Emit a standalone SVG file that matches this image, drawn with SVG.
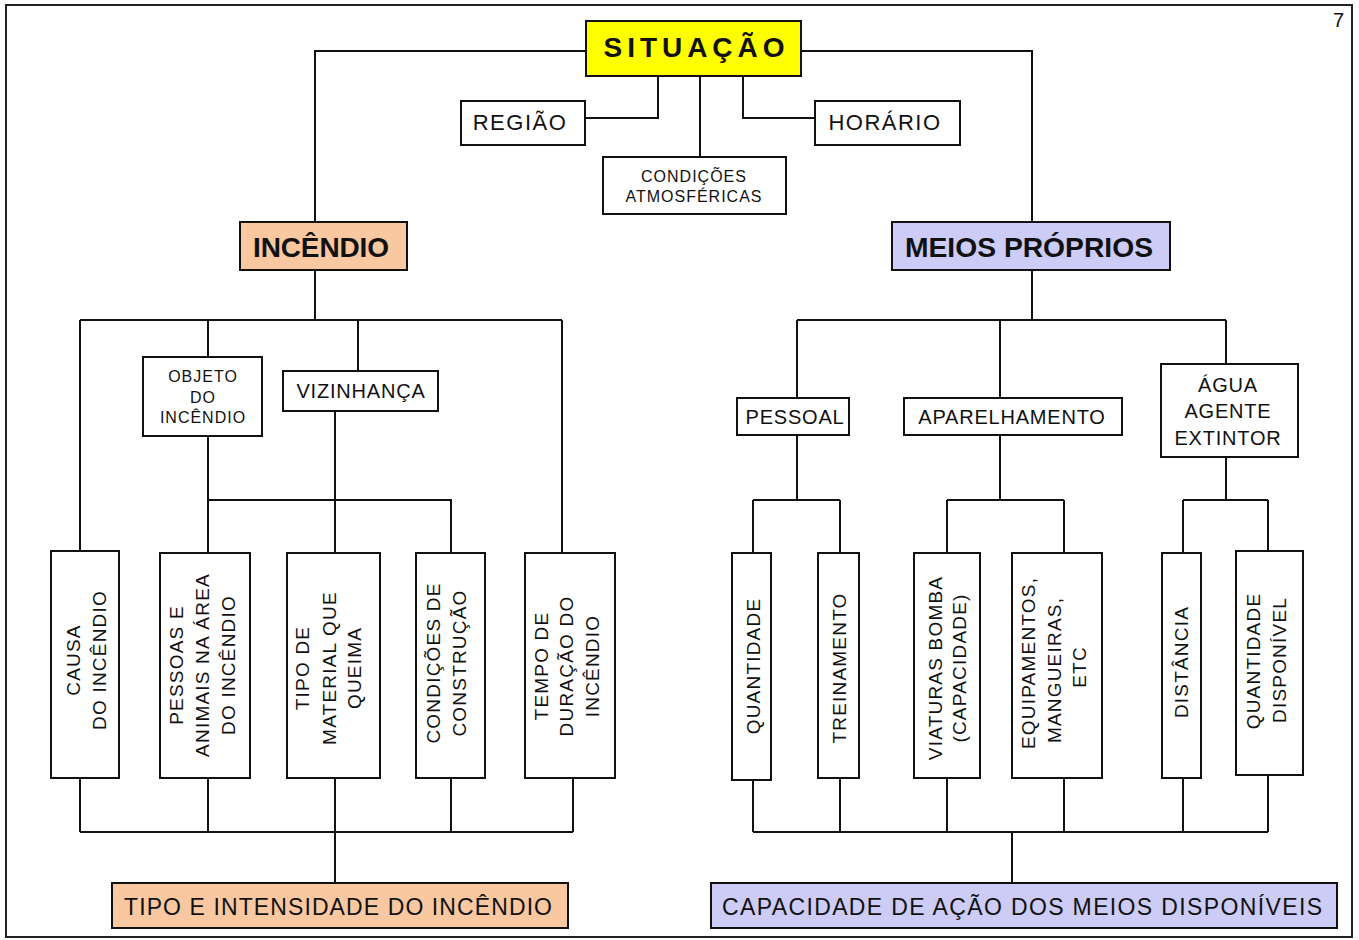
<svg xmlns="http://www.w3.org/2000/svg" width="1359" height="940" viewBox="0 0 1359 940">
<style>
  text { font-family: "Liberation Sans", Arial, sans-serif; fill: #111; }
  .box { fill: #fff; stroke: #111; stroke-width: 2; }
  .yellow { fill: #ffff00; }
  .peach { fill: #f9c8a0; }
  .lav { fill: #ccccf6; }
  .conn path { fill: none; stroke: #111; stroke-width: 2; }
  .b28 { font-size: 28px; font-weight: bold; text-anchor: middle; }
  .t22 { font-size: 22px; text-anchor: middle; letter-spacing: 1.5px; }
  .t23 { font-size: 23px; text-anchor: middle; }
  .t20 { font-size: 20px; text-anchor: middle; letter-spacing: 0.8px; }
  .t16 { font-size: 16px; text-anchor: middle; letter-spacing: 1px; }
  .v { font-size: 19px; text-anchor: middle; letter-spacing: 1.2px; }
</style>
<rect x="0" y="0" width="1359" height="940" fill="#fff"/>
<rect x="6" y="5" width="1346" height="932" fill="none" stroke="#222" stroke-width="2"/>
<text x="1333" y="27" font-size="20">7</text>

<g class="conn">
  <path d="M587,51 H315 V222"/>
  <path d="M801,51 H1032 V222"/>
  <path d="M658,76 V118 H585"/>
  <path d="M743,76 V118 H815"/>
  <path d="M700,76 V157"/>
  <path d="M315,270 V320 M80,320 H562 M80,320 V551 M208,320 V357 M358,320 V371 M562,320 V553"/>
  <path d="M208,436 V553 M208,500 H451 V553"/>
  <path d="M335,411 V553"/>
  <path d="M80,778 V832 M208,778 V832 M335,778 V883 M451,778 V832 M573,778 V832 M80,832 H573"/>
  <path d="M1032,270 V320 M797,320 H1226 M797,320 V398 M1000,320 V398 M1226,320 V364"/>
  <path d="M797,435 V500 M753,500 H840 M753,500 V553 M840,500 V553"/>
  <path d="M1000,435 V500 M947,500 H1064 M947,500 V553 M1064,500 V553"/>
  <path d="M1226,457 V500 M1183,500 H1268 M1183,500 V553 M1268,500 V551"/>
  <path d="M753,780 V832 M840,778 V832 M947,778 V832 M1064,778 V832 M1183,778 V832 M1268,775 V832 M753,832 H1268 M1012,832 V883"/>
</g>

<g id="situacao">
  <rect class="box yellow" x="586" y="21" width="215" height="55"/>
  <text class="b28" x="694" y="57" textLength="181" lengthAdjust="spacing">SITUAÇÃO</text>
</g>
<g id="regiao">
  <rect class="box" x="461" y="101" width="124" height="44"/>
  <text class="t22" x="520" y="130">REGIÃO</text>
</g>
<g id="horario">
  <rect class="box" x="815" y="101" width="145" height="44"/>
  <text class="t22" x="885" y="130">HORÁRIO</text>
</g>
<g id="condicoes-atmosfericas">
  <rect class="box" x="603" y="157" width="183" height="57"/>
  <text class="t16" x="694" y="182">CONDIÇÕES</text>
  <text class="t16" x="694" y="202">ATMOSFÉRICAS</text>
</g>
<g id="incendio">
  <rect class="box peach" x="240" y="222" width="167" height="48"/>
  <text class="b28" x="321" y="257" textLength="136" lengthAdjust="spacing">INCÊNDIO</text>
</g>
<g id="meios-proprios">
  <rect class="box lav" x="892" y="222" width="278" height="48"/>
  <text class="b28" x="1029" y="257" textLength="248" lengthAdjust="spacingAndGlyphs">MEIOS PRÓPRIOS</text>
</g>

<g id="objeto">
  <rect class="box" x="143" y="357" width="119" height="79"/>
  <text class="t16" x="203" y="382">OBJETO</text>
  <text class="t16" x="203" y="403">DO</text>
  <text class="t16" x="203" y="423">INCÊNDIO</text>
</g>
<g id="vizinhanca">
  <rect class="box" x="283" y="371" width="155" height="40"/>
  <text class="t20" x="361" y="398">VIZINHANÇA</text>
</g>

<g id="causa">
  <rect class="box" x="51" y="551" width="68" height="227"/>
  <text class="v" transform="translate(80,660) rotate(-90)">CAUSA</text>
  <text class="v" transform="translate(106,660) rotate(-90)">DO INCÊNDIO</text>
</g>
<g id="pessoas">
  <rect class="box" x="160" y="553" width="90" height="225"/>
  <text class="v" transform="translate(183,665) rotate(-90)">PESSOAS E</text>
  <text class="v" transform="translate(209,665) rotate(-90)">ANIMAIS NA ÁREA</text>
  <text class="v" transform="translate(235,665) rotate(-90)">DO INCÊNDIO</text>
</g>
<g id="tipo-material">
  <rect class="box" x="287" y="553" width="93" height="225"/>
  <text class="v" transform="translate(309,668) rotate(-90)">TIPO DE</text>
  <text class="v" transform="translate(336,668) rotate(-90)">MATERIAL QUE</text>
  <text class="v" transform="translate(361,668) rotate(-90)">QUEIMA</text>
</g>
<g id="condicoes-construcao">
  <rect class="box" x="416" y="553" width="69" height="225"/>
  <text class="v" transform="translate(440,663) rotate(-90)">CONDIÇÕES DE</text>
  <text class="v" transform="translate(466,663) rotate(-90)">CONSTRUÇÃO</text>
</g>
<g id="tempo">
  <rect class="box" x="525" y="553" width="90" height="225"/>
  <text class="v" transform="translate(548,666) rotate(-90)">TEMPO DE</text>
  <text class="v" transform="translate(573,666) rotate(-90)">DURAÇÃO DO</text>
  <text class="v" transform="translate(599,666) rotate(-90)">INCÊNDIO</text>
</g>

<g id="tipo-intensidade">
  <rect class="box peach" x="112" y="883" width="456" height="45"/>
  <text class="t23" x="338" y="915" textLength="428" lengthAdjust="spacing">TIPO E INTENSIDADE DO INCÊNDIO</text>
</g>

<g id="pessoal">
  <rect class="box" x="737" y="398" width="112" height="37"/>
  <text class="t20" x="795" y="424">PESSOAL</text>
</g>
<g id="aparelhamento">
  <rect class="box" x="904" y="398" width="218" height="37"/>
  <text class="t20" x="1012" y="424">APARELHAMENTO</text>
</g>
<g id="agua">
  <rect class="box" x="1161" y="364" width="137" height="93"/>
  <text class="t20" x="1228" y="392">ÁGUA</text>
  <text class="t20" x="1228" y="418">AGENTE</text>
  <text class="t20" x="1228" y="445">EXTINTOR</text>
</g>

<g id="quantidade">
  <rect class="box" x="732" y="553" width="39" height="227"/>
  <text class="v" transform="translate(760,666) rotate(-90)">QUANTIDADE</text>
</g>
<g id="treinamento">
  <rect class="box" x="818" y="553" width="41" height="225"/>
  <text class="v" transform="translate(846,668) rotate(-90)">TREINAMENTO</text>
</g>
<g id="viaturas">
  <rect class="box" x="914" y="553" width="66" height="225"/>
  <text class="v" transform="translate(942,668) rotate(-90)">VIATURAS  BOMBA</text>
  <text class="v" transform="translate(966,668) rotate(-90)">(CAPACIDADE)</text>
</g>
<g id="equipamentos">
  <rect class="box" x="1012" y="553" width="90" height="225"/>
  <text class="v" transform="translate(1035,663) rotate(-90)">EQUIPAMENTOS,</text>
  <text class="v" transform="translate(1061,670) rotate(-90)">MANGUEIRAS,</text>
  <text class="v" transform="translate(1086,667) rotate(-90)">ETC</text>
</g>
<g id="distancia">
  <rect class="box" x="1162" y="553" width="39" height="225"/>
  <text class="v" transform="translate(1188,662) rotate(-90)">DISTÂNCIA</text>
</g>
<g id="quantidade-disponivel">
  <rect class="box" x="1236" y="551" width="67" height="224"/>
  <text class="v" transform="translate(1260,661) rotate(-90)">QUANTIDADE</text>
  <text class="v" transform="translate(1286,660) rotate(-90)">DISPONÍVEL</text>
</g>

<g id="capacidade">
  <rect class="box lav" x="711" y="883" width="626" height="45"/>
  <text class="t23" x="1022" y="915" textLength="600" lengthAdjust="spacing">CAPACIDADE DE  AÇÃO DOS MEIOS DISPONÍVEIS</text>
</g>
</svg>
